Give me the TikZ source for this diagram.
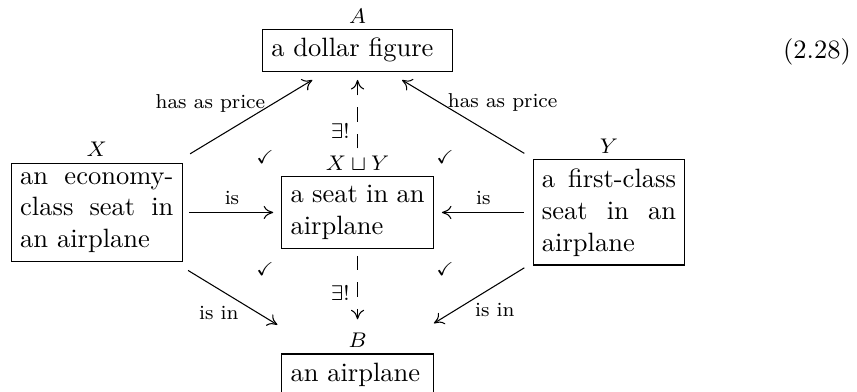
\documentclass[tikz,border=0pt]{standalone}
\usepackage{amssymb}
\usetikzlibrary{positioning, arrows.meta}

\begin{document}
\begin{tikzpicture}[>={To[length=3.6pt, width=5pt]},
		olog/.style={draw, align=justify, text width=0.7in},
		tag/.style={inner sep=1pt, font=\fontsize{7.6}{9}\selectfont},
		lbl/.style={inner sep=2.8pt, font=\fontsize{7.6}{9}\selectfont},
		ok/.style={font=\scriptsize},
		exists/.style={->, dash pattern=on 5.5pt off 4.5pt}]

	\useasboundingbox (0,0) rectangle (11.366,-5.199);

	% boxes
	\node[olog, text width=0.9in, align=left] (price) at (4.742,-0.667) {a dollar figure};
	\node[olog, text width=0.8in] (econ) at (1.284,-2.818) {an economy-class seat in an airplane};
	\node[olog] (seat) at (4.742,-2.818) {a seat in an airplane};
	\node[olog] (first) at (8.077,-2.818) {a first-class seat in an airplane};
	\node[olog] (plane) at (4.742,-4.968) {an airplane};

	% names above the boxes
	\node[tag, above=1pt of price] (pricetag) {$A$};
	\node[tag, above=1pt of econ] (econtag) {$X$};
	\node[tag, above=1pt of seat] (seattag) {$X\sqcup Y$};
	\node[tag, above=1pt of first] (firsttag) {$Y$};
	\node[tag, above=1pt of plane] (planetag) {$B$};

	\node (eqno) at (10.836,-0.690) {(2.28)};

	% arrows
	\draw[->] ([shift={(0.097,0.119)}]econ.north east) -- node[lbl, left, pos=0.68] {has as price} ([shift={(-0.60,-0.11)}]price.south);
	\draw[->] ([shift={(-0.11,0.08)}]first.north west) -- node[lbl, right, pos=0.69] {has as price} ([shift={(0.59,-0.11)}]price.south);
	\draw[->, shorten <=2.4pt, shorten >=3pt] (econ) -- node[lbl, above] {is} (seat);
	\draw[->, shorten <=3.4pt, shorten >=3pt] (first) -- node[lbl, above] {is} (seat);
	\draw[->] ([shift={(0.07,-0.11)}]econ.south east) -- node[lbl, below left, inner sep=1pt, pos=0.6] {is in} ([shift={(-0.05,0.38)}]plane.north west);
	\draw[->] ([shift={(-0.11,-0.03)}]first.south west) -- node[lbl, below right, inner sep=1pt, pos=0.58] {is in} ([shift={(0,0.40)}]plane.north east);

	\draw[exists, shorten <=1.5pt, shorten >=3.1pt] (seattag.north) -- node[lbl, left, pos=0.26] {$\exists!$} (price.south);
	\draw[exists, shorten <=2.6pt, shorten >=4pt] (seat.south) -- node[lbl, left, pos=0.54] {$\exists!$} (planetag.north);

	% commuting squares
	\foreach \cx/\cy [count=\i] in {3.515/-2.085, 5.902/-2.085, 3.515/-3.568, 5.902/-3.568}
		\node[ok] (chk\i) at (\cx,\cy) {$\checkmark$};
\end{tikzpicture}
\end{document}
